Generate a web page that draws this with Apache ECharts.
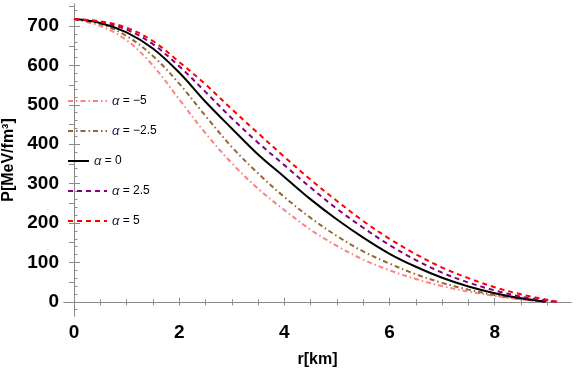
<!DOCTYPE html>
<html>
<head>
<meta charset="utf-8">
<script src="https://cdn.jsdelivr.net/npm/echarts@6/dist/echarts.min.js"></script>
<style>html,body{margin:0;padding:0;background:#fff;}#c{width:576px;height:370px;}</style>
</head>
<body>
<div id="c"></div>
<script>
// radial grid (km) shared by all curves, plus each curve's end radius
const rGrid = [0,0.5,1,1.5,2,2.5,3,3.5,4,4.5,5,5.5,6,6.5,7,7.5,8,8.5];
const seriesNames = ['α = −5','α = −2.5','α = 0','α = 2.5','α = 5'];
const rEnd = [9.0, 8.95, 8.97, 9.15, 9.2];
// pressure values (MeV/fm^3) at rGrid, last entry is the end point value
const pAlphaM5  = [718,700,664,600,514,428,352,287,233,183,142,107,80,58,40,26,15,6,0];
const pAlphaM25 = [718,705,675,624,554,472,393,326,266,213,167,128,97,70,48,31,17,7,0];
const pAlpha0   = [718,708,684,643,582,508,440,374,317,260,209,163,122,89,61,39,22,9,0];
const pAlpha25  = [718,710,691,654,598,533,466,404,347,290,236,188,144,106,74,49,29,13,0];
const pAlpha5   = [718,712,696,662,609,552,489,428,368,310,256,205,160,121,87,60,37,19,0];
// ticks
const xMajorTicks = [0,2,4,6,8];
const xMinorTicks = [0.5,1,1.5,2.5,3,3.5,4.5,5,5.5,6.5,7,7.5,8.5,9];
const xTopTicks = [0,0.5,1,1.5,2,2.5,3,3.5,4,4.5,5,5.5,6,6.5,7,7.5,8,8.5,9];
const yMajorTicks = [0,100,200,300,400,500,600,700];
const yMinorTicks = [-20,20,40,60,80,120,140,160,180,220,240,260,280,320,340,360,380,420,440,460,480,520,540,560,580,620,640,660,680,720,740];
const yRightTicks = [0,50,100,150,200,250,300,350,400,450,500,550,600,650,700,750];

const allP = [pAlphaM5,pAlphaM25,pAlpha0,pAlpha25,pAlpha5];
const colors = ['#ff8080','#996633','#000000','#800080','#ff0000'];
const dashes = [[5,3,1.5,3],[5,3,1.5,3],'solid',[5,4],[5,4]];

const FONT = 'Liberation Sans';
const frame = '#8a8a8a';
const XMIN = -0.19, XMAX = 9.45, YMIN = -36, YMAX = 756;

const series = allP.map((p, i) => ({
  name: seriesNames[i],
  type: 'line',
  xAxisIndex: 0, yAxisIndex: 0,
  data: rGrid.concat([rEnd[i]]).map((r, k) => [r, p[k]]),
  smooth: 0.35,
  symbol: 'none',
  lineStyle: { color: colors[i], width: 2, type: dashes[i] },
  itemStyle: { color: colors[i] },
  z: 2 + i
}));

const legendText = {
  fontFamily: FONT, fontSize: 12, color: '#000', lineHeight: 14,
  rich: {
    g: { fontFamily: FONT, fontStyle: 'italic', fontSize: 13, color: '#1a1a40', lineHeight: 14 },
    t: { fontFamily: FONT, fontSize: 12, color: '#000', lineHeight: 14 }
  }
};
const fmt = name => '{g|α}{t|' + name.slice(1) + '}';
function mkLegend(data, top, w) {
  return {
    data: data, orient: 'vertical', left: 67, top: top,
    itemWidth: w, itemHeight: 14, itemGap: 16,
    itemStyle: { opacity: 0 },
    textStyle: legendText, formatter: fmt, selectedMode: false, padding: 0
  };
}

const gridBox = { left: 64, top: 4, right: 5, bottom: 54, containLabel: false, outerBoundsMode: 'none' };

const option = {
  animation: false,
  backgroundColor: '#fff',
  grid: [ Object.assign({}, gridBox), Object.assign({}, gridBox) ],
  legend: [
    mkLegend([seriesNames[0], seriesNames[1]], 94, 39),
    mkLegend([seriesNames[2]], 154, 21),
    mkLegend([seriesNames[3], seriesNames[4]], 184, 39)
  ],
  xAxis: [
    { type: 'value', gridIndex: 0, position: 'bottom', min: XMIN, max: XMAX,
      axisLine: { show: true, lineStyle: { color: frame, width: 1 } },
      axisTick: { show: true, inside: true, length: 4, customValues: xMajorTicks, lineStyle: { color: frame } },
      axisLabel: { customValues: xMajorTicks, fontFamily: FONT, fontSize: 19, fontWeight: 'bold', color: '#000', margin: 7 },
      splitLine: { show: false },
      name: 'r[km]', nameLocation: 'middle', nameGap: 36,
      nameTextStyle: { fontFamily: FONT, fontSize: 16, fontWeight: 'bold', color: '#000' } },
    { type: 'value', gridIndex: 0, position: 'top', min: XMIN, max: XMAX,
      axisLine: { show: true, lineStyle: { color: frame, width: 1 } },
      axisTick: { show: true, inside: true, length: 3.5, customValues: xTopTicks, lineStyle: { color: frame } },
      axisLabel: { show: false }, splitLine: { show: false } },
    { type: 'value', gridIndex: 1, position: 'bottom', min: XMIN, max: XMAX,
      axisLine: { show: false },
      axisTick: { show: true, inside: true, length: 2.5, customValues: xMinorTicks, lineStyle: { color: frame } },
      axisLabel: { show: false }, splitLine: { show: false } }
  ],
  yAxis: [
    { type: 'value', gridIndex: 0, position: 'left', min: YMIN, max: YMAX,
      axisLine: { show: true, lineStyle: { color: frame, width: 1 } },
      axisTick: { show: true, inside: true, length: 6, customValues: yMajorTicks, lineStyle: { color: frame } },
      axisLabel: { customValues: yMajorTicks, fontFamily: FONT, fontSize: 19, fontWeight: 'bold', color: '#000', margin: 5 },
      splitLine: { show: false },
      name: 'P[MeV/fm³]', nameLocation: 'middle', nameGap: 44, nameRotate: 90,
      nameTextStyle: { fontFamily: FONT, fontSize: 16, fontWeight: 'bold', color: '#000' } },
    { type: 'value', gridIndex: 0, position: 'right', min: YMIN, max: YMAX,
      axisLine: { show: true, lineStyle: { color: frame, width: 1 } },
      axisTick: { show: true, inside: true, length: 5, customValues: yRightTicks, lineStyle: { color: frame } },
      axisLabel: { show: false }, splitLine: { show: false } },
    { type: 'value', gridIndex: 1, position: 'left', min: YMIN, max: YMAX,
      axisLine: { show: false },
      axisTick: { show: true, inside: true, length: 3.5, customValues: yMinorTicks, lineStyle: { color: frame } },
      axisLabel: { show: false }, splitLine: { show: false } }
  ],
  series: series
};

const chart = echarts.init(document.getElementById('c'), null, { renderer: 'canvas' });
chart.setOption(option);
</script>
</body>
</html>
